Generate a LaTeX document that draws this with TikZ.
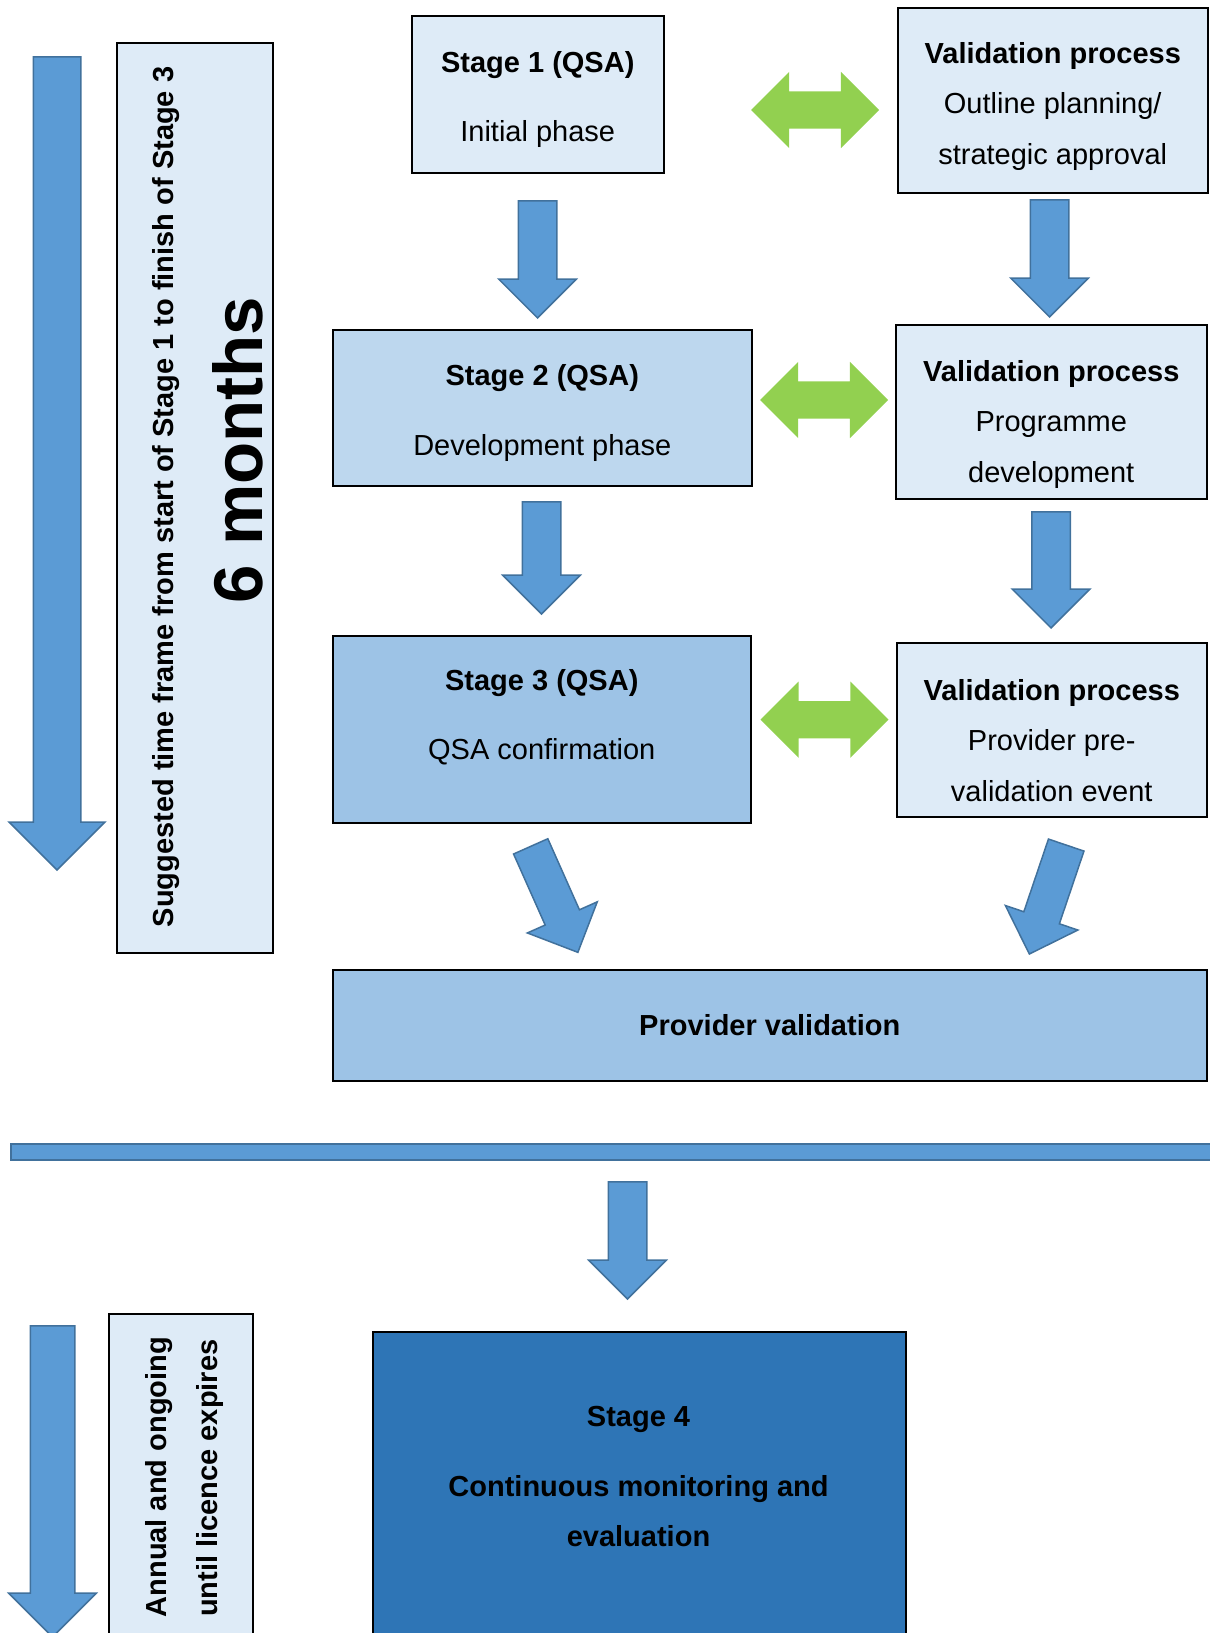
\documentclass[tikz,border=0pt]{standalone}
\usepackage{fontspec}
\setmainfont{Liberation Sans}
\usepackage{tikz}
\usetikzlibrary{shapes.arrows}

\definecolor{lightbox}{HTML}{DEEBF7}
\definecolor{midbox}{HTML}{BDD7EE}
\definecolor{darkbox}{HTML}{9DC3E6}
\definecolor{stagefour}{HTML}{2E75B6}
\definecolor{arrowblue}{HTML}{5B9BD5}
\definecolor{arrowedge}{HTML}{41719C}
\definecolor{arrowgreen}{HTML}{92D050}

\begin{document}
\begin{tikzpicture}
		[
			x=1pt,y=-1pt,
			every node/.style={inner sep=0pt,font=\fontsize{29}{50.5}\selectfont},
			box/.style={draw=black,line width=1.5pt,anchor=north west,align=center,fill=lightbox},
			blockarrow/.style={single arrow,anchor=tip,fill=arrowblue,draw=arrowedge,line width=1.5pt,
					inner xsep=0pt,inner ysep=18.5pt,single arrow head extend=19.5pt,minimum width=76pt},
			swaparrow/.style={double arrow,fill=arrowgreen,inner xsep=0pt,inner ysep=18.5pt,
					double arrow head extend=19.5pt,minimum width=76pt,minimum height=128pt},
			sidetext/.style={rotate=90,font=\bfseries\fontsize{29}{35}\selectfont}]
		\useasboundingbox (0,0) rectangle (1210,1633);
		\clip (0,0) rectangle (1210,1633);

		% QSA stages 1 to 3
		\node[box,minimum width=156pt,minimum height=910pt] (TimeFrame) at (116,42) {};
		\node[sidetext,anchor=base] (TimeText) at (173,497) {Suggested time frame from start of Stage 1 to finish of Stage 3};
		\node[sidetext,anchor=base,font=\bfseries\fontsize{69}{80}\selectfont] (Months) at (262,450) {6 months};
		\node[blockarrow,rotate=-90,minimum height=813pt,minimum width=94pt,inner ysep=23pt,single arrow head extend=24pt] (TimeArrow) at (57,871) {};

		\node[box,minimum width=252pt,minimum height=157pt,text height=93.5pt,text depth=0pt] (Stage1) at (411,15) {\textbf{Stage 1 (QSA)}\\[18pt]Initial phase};
		\node[box,minimum width=310pt,minimum height=185pt,text height=128pt,text depth=0pt] (Valid1) at (897,7) {\textbf{Validation process}\\Outline planning/\\strategic approval};
		\node[box,fill=midbox,minimum width=419pt,minimum height=156pt,text height=94.5pt,text depth=0pt] (Stage2) at (332,329) {\textbf{Stage 2 (QSA)}\\[19pt]Development phase};
		\node[box,minimum width=311pt,minimum height=174pt,text height=141pt,text depth=0pt] (Valid2) at (895,324) {\textbf{Validation process}\\Programme\\development};
		\node[box,fill=darkbox,minimum width=418pt,minimum height=187pt,text depth=30pt] (Stage3) at (332,635) {\textbf{Stage 3 (QSA)}\\[19pt]QSA confirmation};
		\node[box,minimum width=310pt,minimum height=174pt,text height=143pt,text depth=0pt] (Valid3) at (896,642) {\textbf{Validation process}\\Provider pre-\\validation event};
		\node[box,fill=darkbox,minimum width=874pt,minimum height=111pt] (Provider) at (332,969) {\textbf{Provider validation}};

		\foreach \name/\x/\y/\len in {Down1/537.5/319/117pt,Down2/1049.5/318/117pt,Down3/541.5/615/112pt,Down4/1051/629/116pt}
			\node[blockarrow,rotate=-90,minimum height=\len] (\name) at (\x,\y) {};
		\foreach \name/\x/\y in {Swap1/815/110,Swap2/824/400,Swap3/824.5/719.7}
			\node[swaparrow] (\name) at (\x,\y) {};
		\node[blockarrow,rotate=-66,minimum height=116pt,minimum width=75pt,inner ysep=18pt] (DiagLeft) at (578.3,953.3) {};
		\node[blockarrow,rotate=-108.7,minimum height=115pt,minimum width=75pt,inner ysep=18pt] (DiagRight) at (1029,955) {};

		% stage 4
		\draw[fill=arrowblue,draw=arrowedge,line width=1.5pt] (11,1144) rectangle (1225,1160);
		\node[blockarrow,rotate=-90,minimum height=117pt] (Down5) at (627.5,1300) {};
		\node[blockarrow,rotate=-90,minimum height=311pt,minimum width=86pt,inner ysep=21.5pt,single arrow head extend=21.5pt] (OngoingArrow) at (52.5,1638) {};
		\node[box,minimum width=144pt,minimum height=360pt] (Ongoing) at (108,1313) {};
		\node[sidetext,anchor=base west] (Annual) at (166,1617.5) {Annual and ongoing};
		\node[sidetext,anchor=base west] (Until) at (217,1617) {until licence expires};
		\node[box,fill=stagefour,minimum width=533pt,minimum height=360pt] (Stage4) at (372,1331) {};
		\node[align=center,font=\bfseries\fontsize{29}{50.5}\selectfont] (Stage4Text) at (638.5,1476.5) {Stage 4\\[19pt]Continuous monitoring and\\evaluation};
\end{tikzpicture}
\end{document}
